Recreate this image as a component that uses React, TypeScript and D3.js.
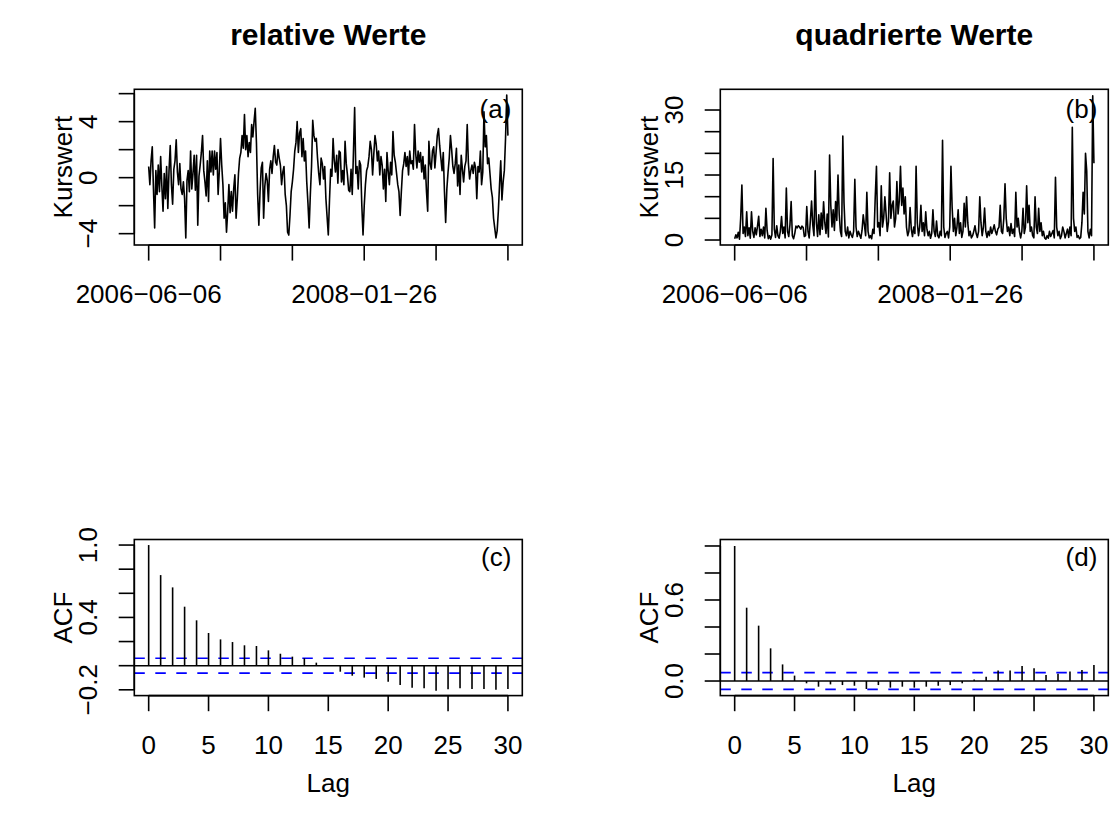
import React from "react";
import * as d3 from "d3";

// ---------- data ----------
const relValues: number[] = [
  0.8, -0.5, 1.2, 2.2, -0.8, -3.6, 0.5, -1.2, 0.9, -1.0,
  1.5, -0.6, -2.4, 0.3, -1.5, 0.8, -2.2, 0.5, 2.3, -0.5,
  -1.9, 0.6, 1.2, 2.7, 0.4, -0.5, 1.0, -0.8, -1.2, -0.3,
  -1.5, -4.3, -0.2, 0.5, -1.0, 1.9, -0.8, 0.3, 1.6, -0.9,
  1.6, -3.4, 0.1, 0.9, 1.8, 3.0, 0.5, -0.3, -1.3, 1.2,
  -1.7, 1.9, 0.4, 1.9, 0.2, 1.9, 0.6, 1.8, -1.2, 0.5,
  2.8, 0.9, -0.5, -2.9, -1.8, -3.9, -2.4, -0.5, -2.5, -1.0,
  -2.4, -0.8, 0.2, -2.9, -1.5, 0.3, 1.4, 1.8, 3.0, 2.1,
  4.5, 2.0, 3.0, 1.5, 2.5, 1.8, 3.8, 2.9, 4.0, 4.95,
  2.5, -1.2, -3.4, -1.0, 0.7, 1.1, -2.9, -0.6, 0.3, -0.2,
  -1.7, 0.6, 1.2, 0.3, 1.5, 2.3, 1.1, 0.9, 2.0, 1.4,
  0.9, -0.5, 0.4, 0.8, -1.2, -2.0, -3.9, -4.1, -2.7, -1.0,
  -0.3, 0.6, 1.9, 2.5, 4.0, 1.8, 3.2, 3.5, 1.5, 2.8,
  1.2, 1.9, -0.3, -1.8, -3.6, -1.2, 0.8, 4.1, 3.0, 2.6,
  2.8, 1.4, 0.3, -0.5, 1.4, 1.0, -0.1, 0.8, -1.5, -2.8,
  -4.1, -1.6, 0.6, 0.1, 2.8, 1.2, 0.4, 1.6, -0.4, 1.9,
  1.8, -0.3, 0.5, -0.5, 2.6, 1.0, 0.2, -0.9, -1.0, 0.6,
  -1.2, 1.8, 5.0, 0.3, 0.8, -0.8, 1.2, 0.9, -2.0, -4.1,
  -2.0, -0.5, 0.5, 0.8, 1.5, 2.6, 2.0, 0.2, 1.7, 3.0,
  2.4, 1.2, 1.9, 0.2, 1.5, 0.9, -0.8, 0.6, -1.7, 1.8,
  0.5, -0.5, 1.1, 0.2, 3.3, 1.6, 1.1, 0.3, -0.5, -1.0,
  -2.7, -1.0, 0.5, 1.0, 1.8, 0.8, 1.5, 0.2, 1.9, 1.0,
  1.2, 0.6, 3.8, 1.7, 0.7, 1.9, 1.1, 1.8, 0.4, 1.5,
  -0.1, 0.9, -1.0, -2.4, 2.6, 1.0, 0.6, 1.9, 2.2, 0.7,
  1.8, 3.0, 3.5, 2.3, 1.4, 0.5, 1.8, -1.0, -3.2, -0.8,
  0.4, 1.4, 3.0, 2.0, 0.8, 0.3, 1.0, 2.1, -0.6, 0.9,
  -1.2, 1.6, 0.6, -0.3, 0.8, 1.2, 3.8, 1.0, -0.1, 0.5,
  0.9, 0.3, 1.1, 0.7, -1.5, 0.8, 0.4, 1.9, -0.5, 0.4,
  4.7, 2.2, 3.0, 1.0, 1.4, 0.3, -0.8, -1.4, -2.9, -3.6,
  -4.3, -3.8, -2.4, -0.5, 1.2, -1.6, -0.3, 0.5, 2.8, 5.9,
  3.0,
];

const sqValues: number[] = [
  0.3, 1.2, 0.5, 1.8, 0.2, 5.0, 12.7, 1.5, 3.0, 0.8,
  6.5, 1.0, 2.8, 0.4, 6.5, 2.0, 0.6, 2.8, 1.2, 3.2,
  5.5, 0.8, 2.5, 1.0, 3.0, 0.5, 7.3, 2.2, 0.3, 1.0,
  0.2, 1.2, 18.8, 2.5, 0.6, 3.3, 1.0, 0.4, 2.0, 5.4,
  1.5, 3.0, 0.5, 12.0, 2.0, 0.8, 3.5, 8.9, 1.0, 0.3,
  1.5, 3.2, 2.8, 3.3, 3.0, 2.5, 3.2, 2.9, 0.8, 1.0,
  7.7, 2.0, 0.5, 4.5, 9.0, 3.5, 1.0, 16.0, 4.0, 0.8,
  5.8, 1.2, 6.2, 2.5, 8.8, 4.0, 1.5, 6.0, 0.7, 19.6,
  8.0, 3.0, 7.0, 2.2, 8.9, 4.5, 15.0, 6.0, 2.0, 0.8,
  24.0, 8.6, 2.0, 1.0, 3.0, 0.5, 2.0, 1.2, 0.6, 2.0,
  14.0, 3.0, 0.8, 2.0, 1.2, 0.4, 2.2, 5.8, 3.5, 1.0,
  11.0, 2.0, 0.5, 1.0, 0.3, 2.5, 1.5, 10.0, 17.0, 3.0,
  4.0, 1.0, 12.5, 3.0, 5.0, 10.0, 6.0, 2.0, 4.2, 15.5,
  5.0, 8.0, 9.0, 3.0, 5.0, 13.5, 6.0, 9.0, 17.0, 8.0,
  12.0, 6.0, 10.0, 3.0, 1.0, 2.0, 7.5, 2.5, 0.8, 3.0,
  1.5, 17.0, 4.0, 1.0, 3.0, 8.0, 2.0, 4.0, 1.0, 6.5,
  2.5, 1.0, 2.0, 0.4, 1.5, 7.0, 2.0, 0.8, 4.4, 1.0,
  0.5, 2.0, 1.0, 23.0, 3.0, 0.6, 1.5, 2.0, 0.5, 3.0,
  17.0, 7.5, 2.0, 5.0, 1.0, 3.0, 7.0, 1.5, 4.0, 0.6,
  2.0, 8.5, 3.0, 10.0, 4.0, 1.0, 2.0, 0.5, 1.0, 2.0,
  3.3, 1.5, 0.6, 2.0, 10.0, 4.0, 1.0, 3.0, 7.4, 2.0,
  0.6, 2.0, 1.0, 3.0, 1.5, 2.4, 3.5, 2.0, 1.2, 2.5,
  3.0, 8.0, 2.0, 1.5, 5.0, 13.0, 5.0, 2.0, 3.0, 1.0,
  3.8, 1.5, 2.5, 0.8, 11.0, 3.0, 5.0, 2.0, 0.5, 2.0,
  7.3, 1.5, 3.0, 12.5, 4.0, 8.0, 2.0, 3.0, 1.0, 0.5,
  10.0, 3.0, 1.5, 7.3, 2.0, 4.0, 1.0, 2.0, 0.5, 0.2,
  1.0, 0.4, 2.0, 0.8, 1.5, 2.2, 0.5, 14.5, 3.0, 1.0,
  2.0, 0.3, 1.0, 3.0, 2.0, 0.5, 1.5, 2.5, 0.6, 3.0,
  1.0, 26.0, 5.0, 2.0, 3.0, 0.6, 1.0, 0.3, 0.6, 4.0,
  11.0, 6.0, 20.0, 16.0, 2.0, 0.5, 2.5, 1.0, 33.3, 17.7,
];

const acfRel: number[] = [
  1.0, 0.751, 0.649, 0.489, 0.376, 0.271, 0.218, 0.196, 0.169, 0.163,
  0.127, 0.099, 0.075, 0.061, 0.025, 0.003, -0.05, -0.083, -0.099, -0.11,
  -0.133, -0.16, -0.182, -0.188, -0.207, -0.196, -0.188, -0.193, -0.193, -0.199,
  -0.193,
];

const acfSq: number[] = [
  1.0, 0.543, 0.41, 0.242, 0.123, 0.04, -0.017, -0.042, -0.025, -0.03,
  -0.035, -0.059, -0.03, -0.049, -0.042, -0.049, -0.042, -0.035, -0.03, -0.017,
  0.012, 0.032, 0.077, 0.077, 0.111, 0.094, 0.044, 0.054, 0.07, 0.081,
  0.119,
];

const ciBound = 0.062;

const dateTickFractions = [0, 0.2, 0.4, 0.6, 0.8, 1.0];
const dateTickLabels = ["2006\u221206\u221206", "", "", "2008\u221201\u221226", "", ""];

const relYTicks = [-4, -2, 0, 2, 4, 6];
const relYLabels = ["\u22124", "", "0", "", "4", ""];
const sqYTicks = [0, 5, 10, 15, 20, 25, 30];
const sqYLabels = ["0", "", "", "15", "", "", "30"];
const acfRelYTicks = [-0.2, 0, 0.2, 0.4, 0.6, 0.8, 1.0];
const acfRelYLabels = ["\u22120.2", "", "", "0.4", "", "", "1.0"];
const acfSqYTicks = [0, 0.2, 0.4, 0.6, 0.8, 1.0];
const acfSqYLabels = ["0.0", "", "", "0.6", "", ""];
const lagTicks = [0, 5, 10, 15, 20, 25, 30];

const titles = ["relative Werte", "quadrierte Werte"];
const panelTags = ["(a)", "(b)", "(c)", "(d)"];

// ---------- layout ----------
const W = 1112;
const H = 823;
const LW = 1.6;
const FONT = "'Liberation Sans', Arial, Helvetica, sans-serif";
const FS = 26;
const TICK = 15.6;
const COLS = [134.3, 720.3];
const PW = 388;
const ROWS = [
  { top: 89.3, bottom: 245 },
  { top: 539.5, bottom: 695.6 },
];

type AxisProps = {
  left: number;
  top: number;
  bottom: number;
  right: number;
};

function Box({ left, top, bottom, right }: AxisProps) {
  return (
    <rect
      x={left}
      y={top}
      width={right - left}
      height={bottom - top}
      fill="none"
      stroke="#000"
      strokeWidth={LW}
    />
  );
}

function XAxis({
  scale,
  ticks,
  labels,
  y,
}: {
  scale: (v: number) => number;
  ticks: number[];
  labels: string[];
  y: number;
}) {
  const x0 = scale(ticks[0]);
  const x1 = scale(ticks[ticks.length - 1]);
  return (
    <g>
      <line x1={x0} x2={x1} y1={y} y2={y} stroke="#000" strokeWidth={LW} />
      {ticks.map((t, i) => (
        <g key={i}>
          <line
            x1={scale(t)}
            x2={scale(t)}
            y1={y}
            y2={y + TICK}
            stroke="#000"
            strokeWidth={LW}
          />
          {labels[i] ? (
            <text
              x={scale(t)}
              y={y + 58}
              textAnchor="middle"
              fontSize={FS}
              fontFamily={FONT}
            >
              {labels[i]}
            </text>
          ) : null}
        </g>
      ))}
    </g>
  );
}

function YAxis({
  scale,
  ticks,
  labels,
  x,
}: {
  scale: (v: number) => number;
  ticks: number[];
  labels: string[];
  x: number;
}) {
  const y0 = scale(ticks[0]);
  const y1 = scale(ticks[ticks.length - 1]);
  return (
    <g>
      <line x1={x} x2={x} y1={y0} y2={y1} stroke="#000" strokeWidth={LW} />
      {ticks.map((t, i) => (
        <g key={i}>
          <line
            x1={x - TICK}
            x2={x}
            y1={scale(t)}
            y2={scale(t)}
            stroke="#000"
            strokeWidth={LW}
          />
          {labels[i] ? (
            <text
              transform={`translate(${x - 37.4},${scale(t)}) rotate(-90)`}
              textAnchor="middle"
              fontSize={FS}
              fontFamily={FONT}
            >
              {labels[i]}
            </text>
          ) : null}
        </g>
      ))}
    </g>
  );
}

function SeriesPanel({
  col,
  values,
  yDomain,
  yTicks,
  yLabels,
  title,
  tag,
}: {
  col: number;
  values: number[];
  yDomain: [number, number];
  yTicks: number[];
  yLabels: string[];
  title: string;
  tag: string;
}) {
  const left = COLS[col];
  const right = left + PW;
  const { top, bottom } = ROWS[0];
  const n = values.length - 1;
  const x = d3.scaleLinear().domain([-0.04 * n, 1.04 * n]).range([left, right]);
  const y = d3.scaleLinear().domain(yDomain).range([bottom, top]);
  const line = d3
    .line<number>()
    .x((_, i) => x(i))
    .y((d) => y(d));
  const tickIdx = dateTickFractions.map((f) => f * n);
  return (
    <g>
      <text
        x={(left + right) / 2}
        y={45}
        textAnchor="middle"
        fontSize={30}
        fontWeight="bold"
        fontFamily={FONT}
      >
        {title}
      </text>
      <path d={line(values) || ""} fill="none" stroke="#000" strokeWidth={LW} strokeLinejoin="round" />
      <Box left={left} right={right} top={top} bottom={bottom} />
      <XAxis scale={x} ticks={tickIdx} labels={dateTickLabels} y={bottom} />
      <YAxis scale={y} ticks={yTicks} labels={yLabels} x={left} />
      <text
        transform={`translate(${left - 62},${(top + bottom) / 2}) rotate(-90)`}
        textAnchor="middle"
        fontSize={FS}
        fontFamily={FONT}
      >
        Kurswert
      </text>
      <text x={right - 11} y={118} textAnchor="end" fontSize={FS} fontFamily={FONT}>
        {tag}
      </text>
    </g>
  );
}

function AcfPanel({
  col,
  values,
  yDomain,
  yTicks,
  yLabels,
  tag,
}: {
  col: number;
  values: number[];
  yDomain: [number, number];
  yTicks: number[];
  yLabels: string[];
  tag: string;
}) {
  const left = COLS[col];
  const right = left + PW;
  const { top, bottom } = ROWS[1];
  const x = d3.scaleLinear().domain([-1.2, 31.2]).range([left, right]);
  const y = d3.scaleLinear().domain(yDomain).range([bottom, top]);
  const clipId = `clip-acf-${col}`;
  return (
    <g>
      <defs>
        <clipPath id={clipId}>
          <rect x={left} y={top} width={right - left} height={bottom - top} />
        </clipPath>
      </defs>
      <g clipPath={`url(#${clipId})`}>
        <line x1={left} x2={right} y1={y(0)} y2={y(0)} stroke="#000" strokeWidth={LW} />
        {[ciBound, -ciBound].map((c, i) => (
          <line
            key={i}
            x1={left}
            x2={right}
            y1={y(c)}
            y2={y(c)}
            stroke="#0000FF"
            strokeWidth={LW}
            strokeDasharray="10.5,10.5"
          />
        ))}
      </g>
      {values.map((v, lag) => (
        <line
          key={lag}
          x1={x(lag)}
          x2={x(lag)}
          y1={y(0)}
          y2={y(v)}
          stroke="#000"
          strokeWidth={LW}
        />
      ))}
      <Box left={left} right={right} top={top} bottom={bottom} />
      <XAxis scale={x} ticks={lagTicks} labels={lagTicks.map(String)} y={bottom} />
      <YAxis scale={y} ticks={yTicks} labels={yLabels} x={left} />
      <text
        transform={`translate(${left - 62},${(top + bottom) / 2}) rotate(-90)`}
        textAnchor="middle"
        fontSize={FS}
        fontFamily={FONT}
      >
        ACF
      </text>
      <text x={(left + right) / 2} y={792} textAnchor="middle" fontSize={FS} fontFamily={FONT}>
        Lag
      </text>
      <text x={right - 11} y={566} textAnchor="end" fontSize={FS} fontFamily={FONT}>
        {tag}
      </text>
    </g>
  );
}

export default function App() {
  return (
    <svg
      width={W}
      height={H}
      viewBox={`0 0 ${W} ${H}`}
      style={{ position: "absolute", left: 0, top: 0, background: "#fff" }}
    >
      <rect x={0} y={0} width={W} height={H} fill="#fff" />
      <SeriesPanel
        col={0}
        values={relValues}
        yDomain={[-4.81, 6.31]}
        yTicks={relYTicks}
        yLabels={relYLabels}
        title={titles[0]}
        tag={panelTags[0]}
      />
      <SeriesPanel
        col={1}
        values={sqValues}
        yDomain={[-1.15, 34.78]}
        yTicks={sqYTicks}
        yLabels={sqYLabels}
        title={titles[1]}
        tag={panelTags[1]}
      />
      <AcfPanel
        col={0}
        values={acfRel}
        yDomain={[-0.248, 1.046]}
        yTicks={acfRelYTicks}
        yLabels={acfRelYLabels}
        tag={panelTags[2]}
      />
      <AcfPanel
        col={1}
        values={acfSq}
        yDomain={[-0.108, 1.048]}
        yTicks={acfSqYTicks}
        yLabels={acfSqYLabels}
        tag={panelTags[3]}
      />
    </svg>
  );
}
